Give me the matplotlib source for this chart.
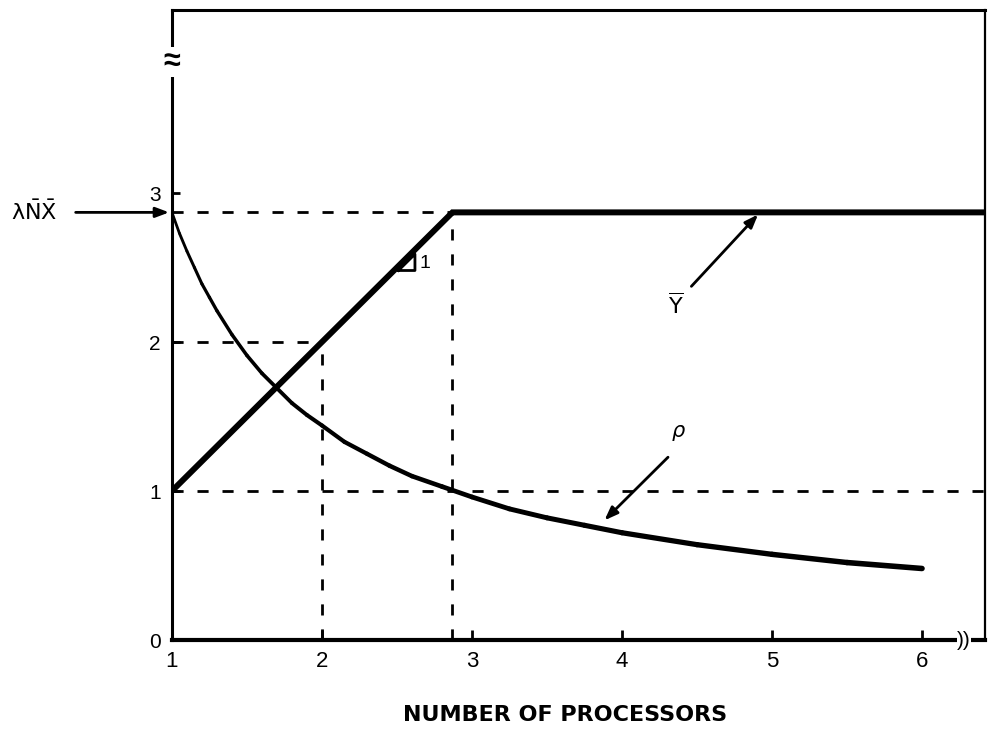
import numpy as np
import matplotlib.pyplot as plt
from matplotlib.collections import LineCollection

plt.rcParams['font.family'] = ['Liberation Sans', 'DejaVu Sans']

# values
lam_nx = 2.87                      # lambda * N * X level
ybar_x = [1.0, 2.87, 6.45]
ybar_y = [1.0, 2.87, 2.87]
rho_x = [1.0, 1.05, 1.1, 1.15, 1.2, 1.25, 1.3, 1.4, 1.5, 1.6, 1.7, 1.8, 1.9, 2.0,
         2.15, 2.3, 2.45, 2.6, 2.8, 3.0, 3.25, 3.5, 3.75, 4.0, 4.5, 5.0, 5.5, 6.0]
rho_y = [2.87, 2.73, 2.61, 2.50, 2.39, 2.30, 2.21, 2.05, 1.91, 1.79, 1.69, 1.59,
         1.51, 1.44, 1.33, 1.25, 1.17, 1.10, 1.03, 0.96, 0.88, 0.82, 0.77, 0.72,
         0.64, 0.575, 0.52, 0.48]
xticks = [1, 2, 3, 4, 5, 6]
yticks = [0, 1, 2, 3]

fig = plt.figure(figsize=(9.88, 7.49), dpi=100)
ax = fig.add_axes([0.174, 0.1455, 0.823, 0.8415])
ax.set_xlim(1, 6.42)
ax.set_ylim(0, 4.23)

# dashed guide lines
dash = dict(color='black', lw=2, ls=(0, (4, 5)), zorder=1)
ax.plot([1, lam_nx], [lam_nx, lam_nx], **dash)
ax.plot([1, 2], [2, 2], **dash)
ax.plot([1, 6.42], [1, 1], **dash)
ax.plot([2, 2], [0, 2], **dash)
ax.plot([lam_nx, lam_nx], [0, lam_nx], **dash)

# Y bar line
ax.plot(ybar_x, ybar_y, color='black', lw=4.3, solid_joinstyle='miter', zorder=3)

# rho curve, getting thicker to the right
pts = np.column_stack([rho_x, rho_y])
segs = np.stack([pts[:-1], pts[1:]], axis=1)
widths = np.linspace(2.0, 4.0, len(segs))
ax.add_collection(LineCollection(segs, linewidths=widths, colors='black',
                                 capstyle='round', joinstyle='round', zorder=3))

# slope triangle
ax.plot([2.51, 2.62, 2.62, 2.51], [2.48, 2.48, 2.59, 2.48], color='black', lw=2, zorder=4)
ax.text(2.65, 2.53, '1', fontsize=14, va='center', ha='left')

# arrows and labels
arr = dict(arrowstyle='-|>,head_length=0.8,head_width=0.3', color='black', lw=2)
ax.annotate('', xy=(4.92, 2.87), xytext=(4.45, 2.36), arrowprops=arr)
ax.text(4.36, 2.24, r'$\overline{\mathsf{Y}}$', fontsize=16, ha='center', va='center')
ax.annotate('', xy=(3.87, 0.79), xytext=(4.32, 1.24), arrowprops=arr)
ax.text(4.38, 1.39, r'$\rho$', fontsize=15, ha='center', va='center')
ax.annotate('', xy=(1.0, lam_nx), xytext=(0.34, lam_nx), arrowprops=arr,
            annotation_clip=False)
ax.text(0.08, lam_nx, r'$\mathsf{\lambda}\bar{\mathsf{N}}\bar{\mathsf{X}}$', fontsize=16,
        ha='center', va='center', clip_on=False)

# axis break marks
ax.text(1.0, 3.88, '≈', fontsize=22, ha='center', va='center', fontweight='bold',
        bbox=dict(fc='white', ec='none', pad=0), clip_on=False, zorder=5)
ax.text(6.28, 0.0, '))', fontsize=15, ha='center', va='center',
        bbox=dict(fc='white', ec='none', pad=0), clip_on=False, zorder=5)

ax.set_xticks(xticks)
ax.set_yticks(yticks)
ax.tick_params(axis='x', direction='in', length=7, width=2, labelsize=16, pad=8)
ax.tick_params(axis='y', direction='in', length=6, width=2, labelsize=15, pad=8)
for s, w in zip(['left', 'bottom', 'top', 'right'], [2.2, 3.0, 2.2, 1.6]):
    ax.spines[s].set_linewidth(w)

fig.text(0.572, 0.045, 'NUMBER OF PROCESSORS', fontsize=16, fontweight='bold',
         family='DejaVu Sans', ha='center', va='center')

fig.savefig('out.png', dpi=100)
